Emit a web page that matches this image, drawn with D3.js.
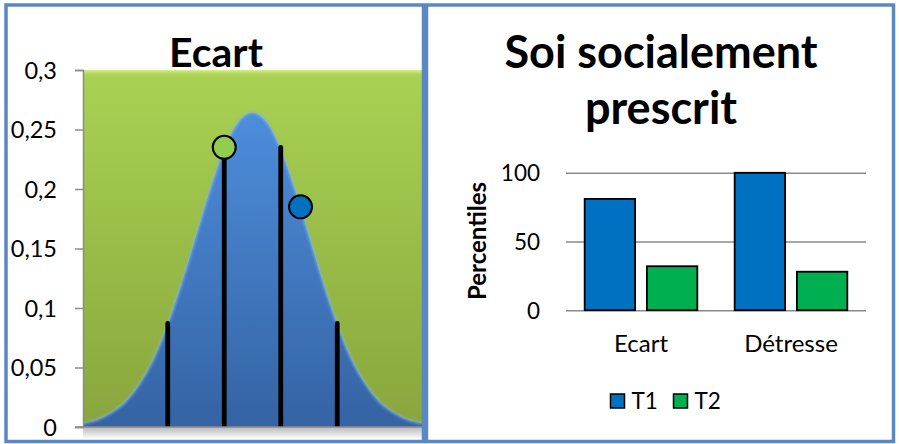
<!DOCTYPE html>
<html>
<head>
<meta charset="utf-8">
<script src="https://cdn.jsdelivr.net/npm/d3@7"></script>
<style>
  html, body { margin: 0; padding: 0; background: #fff; }
  svg { display: block; font-family: Lato, "Open Sans", sans-serif; }
</style>
</head>
<body>
<svg id="chart" width="899" height="444"></svg>
<script>
// ---- Left panel: distribution of "Ecart" ----
const curveZ = [-3, -2.75, -2.5, -2.25, -2, -1.75, -1.5, -1.25, -1, -0.75, -0.5, -0.25, 0,
                0.25, 0.5, 0.75, 1, 1.25, 1.5, 1.75, 2, 2.25, 2.5, 2.75, 3];
const curveDensity = [0.003, 0.006, 0.012, 0.021, 0.036, 0.057, 0.086, 0.121, 0.160, 0.199, 0.233, 0.256, 0.264,
                      0.256, 0.233, 0.199, 0.160, 0.121, 0.086, 0.057, 0.036, 0.021, 0.012, 0.006, 0.003];
const markerLineZ = [-1.5, -0.5, 0.5, 1.5];
const markerLineTop = [0.087, 0.235, 0.235, 0.087];
const pointLabels = ["T2", "T1"];
const pointZ = [-0.5, 0.85];
const pointDensity = [0.235, 0.185];
const leftTicks = [0, 0.05, 0.1, 0.15, 0.2, 0.25, 0.3];
const leftTickLabels = ["0", "0,05", "0,1", "0,15", "0,2", "0,25", "0,3"];

// ---- Right panel: "Soi socialement prescrit" ----
const categories = ["Ecart", "Détresse"];
const seriesNames = ["T1", "T2"];
const valuesT1 = [81, 100];
const valuesT2 = [32, 28];
const rightTicks = [0, 50, 100];
const rightTickLabels = ["0", "50", "100"];

const colors = { T1: "#0070C0", T2: "#00B050", dotT2: "#92CD4E", dotT1: "#0070C0" };

const svg = d3.select("#chart");
const defs = svg.append("defs");

// gradients
const gBg = defs.append("linearGradient").attr("id", "plotBg").attr("x1", 0).attr("y1", 0).attr("x2", 0).attr("y2", 1);
gBg.append("stop").attr("offset", "0%").attr("stop-color", "#A9D253");
gBg.append("stop").attr("offset", "100%").attr("stop-color", "#89A63D");

const gBell = defs.append("linearGradient").attr("id", "bellFill").attr("x1", 0).attr("y1", 0).attr("x2", 0).attr("y2", 1);
gBell.append("stop").attr("offset", "0%").attr("stop-color", "#4D8DDB");
gBell.append("stop").attr("offset", "100%").attr("stop-color", "#3563A4");

const gTop = defs.append("linearGradient").attr("id", "bevelTop").attr("x1", 0).attr("y1", 0).attr("x2", 0).attr("y2", 1);
gTop.append("stop").attr("offset", "0%").attr("stop-color", "#D9F08E").attr("stop-opacity", 1);
gTop.append("stop").attr("offset", "100%").attr("stop-color", "#A9D253").attr("stop-opacity", 0);

const gShadow = defs.append("linearGradient").attr("id", "shadow").attr("x1", 0).attr("y1", 0).attr("x2", 0).attr("y2", 1);
gShadow.append("stop").attr("offset", "0%").attr("stop-color", "#B8B8B8");
gShadow.append("stop").attr("offset", "100%").attr("stop-color", "#FFFFFF");

defs.append("filter").attr("id", "soft").append("feGaussianBlur").attr("stdDeviation", 1.2);

// ---------- Left chart ----------
const L = { left: 83, right: 422, top: 70, bottom: 427 };
const xL = d3.scaleLinear().domain([-3, 3]).range([L.left, L.right]);
const yL = d3.scaleLinear().domain([0, 0.3]).range([L.bottom, L.top]);

defs.append("clipPath").attr("id", "plotClip")
  .append("rect").attr("x", L.left).attr("y", L.top)
  .attr("width", L.right - L.left).attr("height", L.bottom - L.top);

// drop shadow beneath the plot area
svg.append("rect").attr("x", L.left).attr("y", L.bottom).attr("width", L.right - L.left).attr("height", 12)
  .attr("fill", "url(#shadow)");

svg.append("rect").attr("x", L.left).attr("y", L.top).attr("width", L.right - L.left).attr("height", L.bottom - L.top)
  .attr("fill", "url(#plotBg)");
svg.append("rect").attr("x", L.left).attr("y", L.top).attr("width", L.right - L.left).attr("height", 7)
  .attr("fill", "url(#bevelTop)");

const plot = svg.append("g").attr("clip-path", "url(#plotClip)");
const bellData = curveZ.map((z, i) => ({ z, d: curveDensity[i] }));
const area = d3.area().x(p => xL(p.z)).y0(yL(0)).y1(p => yL(p.d)).curve(d3.curveMonotoneX);
const line = d3.line().x(p => xL(p.z)).y(p => yL(p.d)).curve(d3.curveMonotoneX);

plot.append("path").datum(bellData).attr("d", area).attr("fill", "url(#bellFill)");
plot.append("path").datum(bellData).attr("d", line).attr("fill", "none")
  .attr("stroke", "#7FB0EE").attr("stroke-width", 2.5).attr("stroke-opacity", 0.7).attr("filter", "url(#soft)");

// vertical reference lines
plot.selectAll("line.ref").data(markerLineZ).join("line").attr("class", "ref")
  .attr("x1", z => xL(z)).attr("x2", z => xL(z))
  .attr("y1", yL(0)).attr("y2", (z, i) => yL(markerLineTop[i]))
  .attr("stroke", "#000").attr("stroke-width", 4.8).attr("stroke-linecap", "round");

// measured points
svg.selectAll("circle.pt").data(pointZ).join("circle").attr("class", "pt")
  .attr("cx", z => xL(z)).attr("cy", (z, i) => yL(pointDensity[i])).attr("r", 11.5)
  .attr("fill", (z, i) => pointLabels[i] === "T2" ? colors.dotT2 : colors.dotT1)
  .attr("stroke", "#000").attr("stroke-width", 2);

// axes
const axisL = d3.axisLeft(yL).tickValues(leftTicks).tickSize(8).tickFormat((d, i) => leftTickLabels[i]);
const gAxL = svg.append("g").attr("transform", `translate(${L.left},0)`).call(axisL);
gAxL.select(".domain").attr("stroke", "#8C8C8C").attr("stroke-width", 1.5);
gAxL.selectAll(".tick line").attr("stroke", "#8C8C8C").attr("stroke-width", 1.5);
gAxL.selectAll(".tick text").attr("font-size", 23.5).attr("font-family", "Lato, sans-serif")
  .attr("fill", "#000").attr("x", -26).attr("dy", "0.36em");
svg.append("line").attr("x1", L.left - 8).attr("x2", L.right).attr("y1", L.bottom).attr("y2", L.bottom)
  .attr("stroke", "#8C8C8C").attr("stroke-width", 1.5);

svg.append("text").attr("x", 216).attr("y", 67).attr("text-anchor", "middle")
  .attr("font-size", 41).attr("font-weight", 700).attr("fill", "#000").text("Ecart");

// ---------- Right chart ----------
const R = { left: 566, right: 866, top: 172.8, bottom: 310.2 };
const x0 = d3.scaleBand().domain(categories).range([R.left, R.right]).paddingInner(0).paddingOuter(0);
const x1 = d3.scaleBand().domain(seriesNames).range([0, x0.bandwidth()]).paddingInner(0.19).paddingOuter(0.3);
const yR = d3.scaleLinear().domain([0, 100]).range([R.bottom, R.top]);

const axisR = d3.axisLeft(yR).tickValues(rightTicks).tickSize(-(R.right - R.left)).tickFormat((d, i) => rightTickLabels[i]);
const gAxR = svg.append("g").attr("transform", `translate(${R.left},0)`).call(axisR);
gAxR.select(".domain").remove();
gAxR.selectAll(".tick line").attr("stroke", "#8A8A8A").attr("stroke-width", 1.5);
gAxR.selectAll(".tick text").attr("font-size", 22.5).attr("font-family", "Lato, sans-serif")
  .attr("fill", "#000").attr("x", -26).attr("dy", "0.36em");

const barRows = categories.map((c, i) => ({ cat: c, vals: [{ s: "T1", v: valuesT1[i] }, { s: "T2", v: valuesT2[i] }] }));
const groups = svg.selectAll("g.cat").data(barRows).join("g").attr("class", "cat")
  .attr("transform", d => `translate(${x0(d.cat)},0)`);
groups.selectAll("rect").data(d => d.vals).join("rect")
  .attr("x", d => x1(d.s)).attr("width", x1.bandwidth())
  .attr("y", d => yR(d.v)).attr("height", d => yR(0) - yR(d.v))
  .attr("fill", d => colors[d.s]).attr("stroke", "#000").attr("stroke-width", 1.8);

// category labels
svg.selectAll("text.cat").data(categories).join("text").attr("class", "cat")
  .attr("x", c => x0(c) + x0.bandwidth() / 2).attr("y", 352)
  .attr("text-anchor", "middle").attr("font-size", 24).attr("fill", "#000").text(c => c);

// y title
svg.append("text").attr("transform", "translate(486,241) rotate(-90)").attr("text-anchor", "middle")
  .attr("font-size", 24).attr("font-weight", 700).attr("fill", "#000").text("Percentiles");

// chart title
const titleR = svg.append("text").attr("text-anchor", "middle").attr("font-size", 45).attr("font-weight", 700).attr("fill", "#000");
titleR.append("tspan").attr("x", 661).attr("y", 68).text("Soi socialement");
titleR.append("tspan").attr("x", 661).attr("y", 124).text("prescrit");

// legend
const legX = [610.5, 673.5];
const leg = svg.selectAll("g.leg").data(seriesNames).join("g").attr("class", "leg")
  .attr("transform", (s, i) => `translate(${legX[i]},394)`);
leg.append("rect").attr("width", 14).attr("height", 14).attr("fill", s => colors[s])
  .attr("stroke", "#000").attr("stroke-width", 1.5);
leg.append("text").attr("x", 21).attr("y", 14.5).attr("font-size", 22.5).attr("fill", "#000").text(s => s);

// panel frames
const frameColor = "#5B87C5";
svg.append("rect").attr("x", 6).attr("y", 5).attr("width", 417.5).attr("height", 436.5)
  .attr("fill", "none").attr("stroke", frameColor).attr("stroke-width", 3.5);
svg.append("rect").attr("x", 426.5).attr("y", 5).attr("width", 467).attr("height", 436.5)
  .attr("fill", "none").attr("stroke", frameColor).attr("stroke-width", 3.5);
</script>
</body>
</html>
